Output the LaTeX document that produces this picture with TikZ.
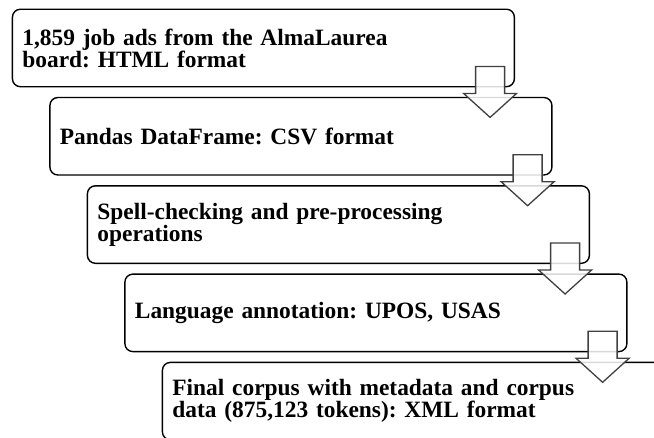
\documentclass[tikz,border=0pt]{standalone}
\usepackage{fontspec}
\setmainfont{Liberation Serif}
\usetikzlibrary{calc}
\frenchspacing
\newcommand\stagearrow[1]{%
  \begin{scope}[shift={($(#1.south east)+(-25,0)$)}]
    \draw[blk] (-14.5,-21) coordinate (#1-atop) -- (14.5,-21) -- (14.5,6) -- (26.5,6)
      -- (0,30) coordinate (#1-atip) -- (-26.5,6) -- (-14.5,6) -- cycle;
  \end{scope}}
\begin{document}
\begin{tikzpicture}[x=1pt,y=-1pt,
  stage/.style={draw=black, line width=1.4pt, rounded corners=8pt, anchor=north west,
    minimum width=502pt, minimum height=77.5pt, text width=482pt, inner xsep=10pt,
    inner ysep=0pt, align=left, font=\bfseries\fontsize{23.4}{22}\selectfont\frenchspacing},
  blk/.style={draw=black!75, line width=1.3pt, fill=white, fill opacity=0.85, line join=miter}]
\useasboundingbox (0,0) rectangle (654,437);
\clip (0,0) rectangle (654,437);
\node[stage] (b1) at (11.7,8.5) {1,859 job ads from the AlmaLaurea\\board: HTML format};
\node[stage] (b2) at (49.2,96.8) {Pandas DataFrame: CSV format};
\node[stage] (b3) at (86.7,185.1) {Spell-checking and pre-processing\\operations};
\node[stage] (b4) at (124.2,273.4) {Language annotation: UPOS, USAS};
\node[stage] (b5) at (161.7,361.7) {Final corpus with metadata and corpus\\data (875,123 tokens): XML format};
\stagearrow{b1}
\stagearrow{b2}
\stagearrow{b3}
\stagearrow{b4}
\end{tikzpicture}
\end{document}
